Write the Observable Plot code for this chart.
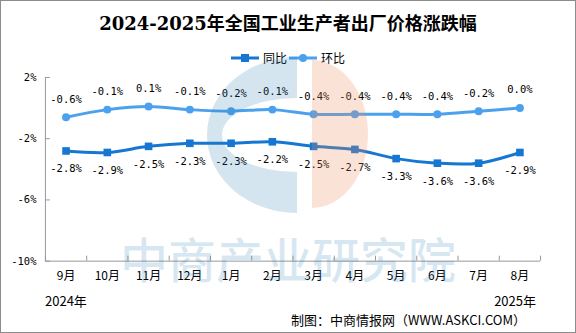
<!DOCTYPE html>
<html>
<head>
<meta charset="utf-8">
<script src="https://cdn.jsdelivr.net/npm/d3@7"></script>
<script src="https://cdn.jsdelivr.net/npm/@observablehq/plot@0.6"></script>
<style>
  html, body { margin: 0; padding: 0; background: #fff; }
  #wrap { position: relative; width: 576px; height: 333px; box-sizing: border-box; border: 1px solid #8c8c8c; background: #fff; overflow: hidden; font-family: "Noto Sans CJK SC", sans-serif; }
  #title { position: absolute; left: 0; right: 0; top: 10px; text-align: center; font-family: "DejaVu Serif", "Noto Sans CJK SC", serif; font-weight: 700; font-size: 18px; line-height: 26px; color: #000; }
  #legend { position: absolute; left: 0; right: 0; top: 49px; display: flex; justify-content: center; align-items: center; font-size: 12px; line-height: 16px; color: #000; }
  #legend .item { display: flex; align-items: center; margin: 0 1px; }
  #legend svg { margin-right: 4px; }
  #chart { position: absolute; left: -1px; top: 65px; }
  .yr { position: absolute; font-size: 13px; line-height: 18px; color: #000; }
  #caption { position: absolute; right: 49px; top: 310px; font-size: 13px; line-height: 18px; color: #000; }
  #wm { position: absolute; left: -1px; top: -1px; pointer-events: none; }
</style>
</head>
<body>
<div id="wrap">
  <div id="title"></div>
  <div id="legend"></div>
  <div id="chart"></div>
  <div class="yr" id="y1" style="left:44px; top:291px;"></div>
  <div class="yr" id="y2" style="right:39px; top:291px;"></div>
  <div id="caption"></div>
  <svg id="wm" width="576" height="333">
    <path d="M297,57 A90,78 0 0,0 297,213 L297,172 A75,37 0 0,1 297,98 Z" fill="#2a7fb5" fill-opacity="0.2"/>
    <path d="M312,60 A56,74 0 0,1 312,208 Z" fill="#f08a5d" fill-opacity="0.25"/>
    <text id="wmtext" x="288" y="278" text-anchor="middle" font-family="Noto Sans CJK SC" font-weight="500" font-size="48" fill="#2a7fb5" fill-opacity="0.19"></text>
  </svg>
</div>
<script>
const titleText = "2024-2025年全国工业生产者出厂价格涨跌幅";
const months = ["9月","10月","11月","12月","1月","2月","3月","4月","5月","6月","7月","8月"];
const yoy = [-2.8,-2.9,-2.5,-2.3,-2.3,-2.2,-2.5,-2.7,-3.3,-3.6,-3.6,-2.9];
const mom = [-0.6,-0.1,0.1,-0.1,-0.2,-0.1,-0.4,-0.4,-0.4,-0.4,-0.2,0.0];
const yTicks = [2,-2,-6,-10];
const seriesNames = ["同比","环比"];
const colors = ["#1677d2","#4ca1ee"];
const yearLabels = ["2024年","2025年"];
const captionText = "制图：中商情报网（WWW.ASKCI.COM）";
const watermarkText = "中商产业研究院";

document.getElementById("title").textContent = titleText;
document.getElementById("y1").textContent = yearLabels[0];
document.getElementById("y2").textContent = yearLabels[1];
document.getElementById("caption").textContent = captionText;
document.getElementById("wmtext").textContent = watermarkText;

// legend
const legend = document.getElementById("legend");
seriesNames.forEach((name, k) => {
  const item = document.createElement("div");
  item.className = "item";
  const marker = k === 0
    ? `<rect x="10" y="1" width="8" height="8" fill="${colors[k]}"/>`
    : `<circle cx="14" cy="5" r="4" fill="${colors[k]}"/>`;
  item.innerHTML = `<svg width="28" height="10"><line x1="0" y1="5" x2="28" y2="5" stroke="${colors[k]}" stroke-width="3"/>${marker}</svg><span>${name}</span>`;
  legend.appendChild(item);
});

const rows = months.map((m, i) => ({i, m, yoy: yoy[i], mom: mom[i]}));
const fmt = v => v.toFixed(1) + "%";
const mono = "DejaVu Sans Mono, monospace";
const yMin = d3.min(yTicks), yMax = d3.max(yTicks);
const boundaries = d3.range(-0.5, months.length, 1);

const chart = Plot.plot({
  width: 576,
  height: 222,
  marginTop: 11,
  marginBottom: 27,
  marginLeft: 45,
  marginRight: 35,
  style: {background: "transparent", overflow: "visible"},
  x: {type: "linear", domain: [-0.5, months.length - 0.5]},
  y: {domain: [yMin, yMax]},
  marks: [
    Plot.ruleY([yMin], {stroke: "#999"}),
    Plot.ruleX([-0.5], {stroke: "#999"}),
    Plot.ruleX(boundaries, {x: d => d, y1: yMin, y2: yMin, insetBottom: 5, stroke: "#999"}),
    Plot.axisX(d3.range(months.length), {tickSize: 0, tickPadding: 10, tickFormat: i => months[i], fontSize: 12, fontFamily: "Noto Sans CJK SC", fill: "#000", label: null}),
    Plot.axisY(yTicks, {tickSize: 5, insetLeft: 5, tickPadding: 9, tickFormat: d => d + "%", stroke: "#999", fill: "#000", fontSize: 10.5, fontFamily: mono, label: null}),
    Plot.line(rows, {x: "i", y: "yoy", stroke: colors[0], strokeWidth: 3, curve: "catmull-rom"}),
    Plot.line(rows, {x: "i", y: "mom", stroke: colors[1], strokeWidth: 3, curve: "catmull-rom"}),
    Plot.dot(rows, {x: "i", y: "yoy", symbol: "square", r: 4.3, fill: colors[0], stroke: null}),
    Plot.dot(rows, {x: "i", y: "mom", r: 4, fill: colors[1], stroke: null}),
    Plot.text(rows, {x: "i", y: "yoy", text: d => fmt(d.yoy), dy: 18, fontSize: 10.5, fontFamily: mono, fill: "#000"}),
    Plot.text(rows, {x: "i", y: "mom", text: d => fmt(d.mom), dy: -18, fontSize: 10.5, fontFamily: mono, fill: "#000"})
  ]
});
document.getElementById("chart").appendChild(chart);
</script>
</body>
</html>
